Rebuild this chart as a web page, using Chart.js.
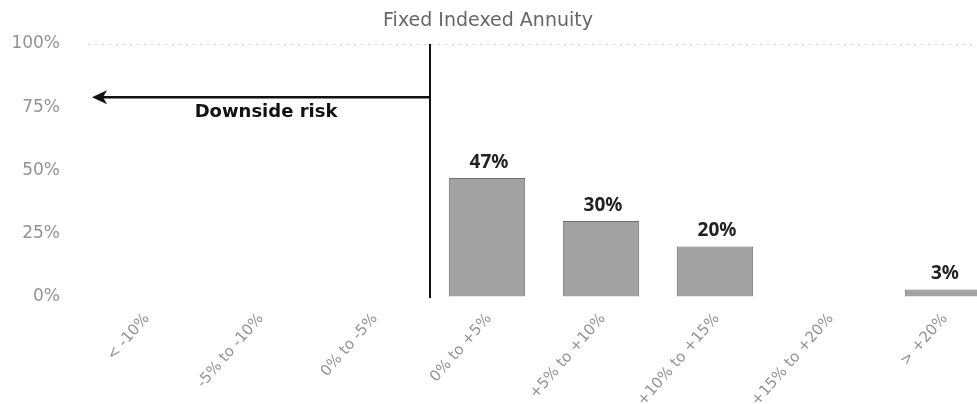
<!DOCTYPE html>
<html>
<head>
<meta charset="utf-8">
<script src="https://cdn.jsdelivr.net/npm/chart.js@4/dist/chart.umd.min.js"></script>
<style>
  html, body { margin: 0; padding: 0; background: #fff; overflow: hidden; }
  #wrap { width: 1016px; height: 404px; }
</style>
</head>
<body>
<div id="wrap"><canvas id="c" width="1016" height="404"></canvas></div>
<script>
const categories = ["< -10%", "-5% to -10%", "0% to -5%", "0% to +5%", "+5% to +10%", "+10% to +15%", "+15% to +20%", "> +20%"];
const shares = [null, null, null, 47, 30, 20, null, 3];
const yTicks = [0, 25, 50, 75, 100];
const chartTitle = "Fixed Indexed Annuity";
const riskLabel = "Downside risk";

const overlay = {
  id: 'overlay',
  afterDatasetsDraw(chart) {
    const ctx = chart.ctx;
    const x = chart.scales.x, y = chart.scales.y;
    const area = chart.chartArea;
    ctx.save();
    // title, centred on the visible window
    ctx.font = '19px "DejaVu Sans", sans-serif';
    ctx.fillStyle = '#666';
    ctx.textAlign = 'center';
    ctx.textBaseline = 'middle';
    ctx.fillText(chartTitle, 488, 21);
    // divider between negative and positive outcomes
    const bx = (x.getPixelForValue(2) + x.getPixelForValue(3)) / 2;
    ctx.strokeStyle = '#111';
    ctx.lineWidth = 2;
    ctx.beginPath();
    ctx.moveTo(bx, y.getPixelForValue(100));
    ctx.lineTo(bx, y.getPixelForValue(0) + 1);
    ctx.stroke();
    // arrow
    const ay = y.getPixelForValue(79);
    const tip = area.left + 4;
    ctx.lineWidth = 2.5;
    ctx.beginPath();
    ctx.moveTo(bx, ay);
    ctx.lineTo(tip + 10, ay);
    ctx.stroke();
    ctx.fillStyle = '#111';
    ctx.beginPath();
    ctx.moveTo(tip, ay);
    ctx.lineTo(tip + 15, ay - 7);
    ctx.lineTo(tip + 11, ay);
    ctx.lineTo(tip + 15, ay + 7);
    ctx.closePath();
    ctx.fill();
    ctx.font = 'bold 18px "DejaVu Sans", sans-serif';
    ctx.textAlign = 'center';
    ctx.textBaseline = 'middle';
    ctx.fillText(riskLabel, x.getPixelForValue(1) + 7, ay + 15);
    // value labels
    const meta = chart.getDatasetMeta(0);
    ctx.font = 'bold 19px "Noto Sans", sans-serif';
    ctx.fillStyle = '#222';
    ctx.textBaseline = 'bottom';
    meta.data.forEach((bar, i) => {
      const v = shares[i];
      if (v === null) return;
      ctx.fillText(v + '%', bar.x + 2, bar.y - 6);
    });
    ctx.restore();
  }
};

new Chart(document.getElementById('c'), {
  type: 'bar',
  data: {
    labels: categories,
    datasets: [{
      data: shares,
      backgroundColor: '#a2a2a2',
      borderColor: '#6e6e6e',
      borderWidth: 1,
      categoryPercentage: 0.67,
      barPercentage: 1.0
    }]
  },
  options: {
    responsive: false,
    animation: false,
    layout: { padding: { left: 0, right: 16, top: 44, bottom: 0 } },
    plugins: {
      legend: { display: false },
      tooltip: { enabled: false },
      title: { display: false }
    },
    scales: {
      x: {
        grid: { display: false },
        border: { display: false },
        afterFit(scale) { scale.height = 107; scale.paddingLeft = 0; scale.paddingRight = 0; scale.paddingTop = 0; },
        ticks: {
          color: '#939393',
          font: { family: '"DejaVu Sans", sans-serif', size: 15 },
          minRotation: 49,
          maxRotation: 49,
          autoSkip: false,
          padding: 5,
          labelOffset: 2
        }
      },
      y: {
        min: 0,
        max: 100,
        afterBuildTicks(axis) { axis.ticks = yTicks.map(v => ({ value: v })); },
        afterFit(scale) { scale.width = 88; scale.paddingTop = 0; scale.paddingBottom = 0; },
        grid: {
          drawTicks: false,
          color: ctx => (ctx.tick && ctx.tick.value === 100) ? 'rgba(0,0,0,0.18)' : 'rgba(0,0,0,0)',
          lineWidth: 1
        },
        border: { display: false, dash: [2, 5] },
        ticks: {
          color: '#939393',
          font: { family: '"DejaVu Sans", sans-serif', size: 17 },
          padding: 28,
          callback: v => v + '%'
        }
      }
    }
  },
  plugins: [overlay]
});
</script>
</body>
</html>
